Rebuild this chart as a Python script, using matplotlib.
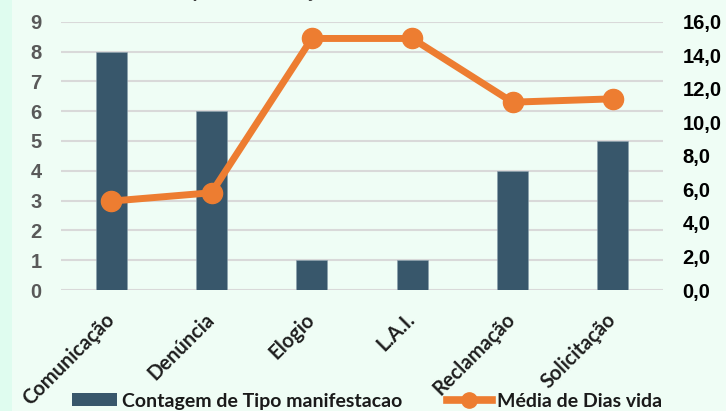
import matplotlib
matplotlib.use('Agg')
import matplotlib.pyplot as plt
from matplotlib.patches import Rectangle
from matplotlib.lines import Line2D
from matplotlib.patches import Patch
import numpy as np

categorias = ['Comunicação', 'Denúncia', 'Elogio', 'L.A.I.', 'Reclamação', 'Solicitação']
contagem = [8, 6, 1, 1, 4, 5]
media_dias = [5.3, 5.8, 15.0, 15.0, 11.2, 11.4]
ticks_esq = list(range(0, 10))
ticks_dir = np.arange(0, 17, 2)

bg = '#effdf5'
bar_color = '#38576b'
line_color = '#ed7d31'

fig = plt.figure(figsize=(7.26, 4.11), dpi=100, facecolor=bg)
fig.patches.append(Rectangle((0, 0), 12 / 726, 1, transform=fig.transFigure,
                             facecolor='#dffcef', edgecolor='none', zorder=0))
ax1 = fig.add_axes([61 / 726, 1 - 290 / 411, 602 / 726, 268.3 / 411])
ax1.set_facecolor(bg)
x = np.arange(len(categorias))
ax1.bar(x, contagem, width=0.31, color=bar_color, edgecolor='#8aa0ad', linewidth=0.4, zorder=2)
ax1.set_xlim(-0.5, len(categorias) - 0.5)
ax1.set_ylim(0, 9)
ax1.set_yticks(ticks_esq)
ax1.set_yticklabels([str(t) for t in ticks_esq], fontsize=14.5, fontweight='bold',
                    color='#595959', family='Liberation Sans')
ax1.grid(axis='y', color='#d9d9d9', linewidth=1.5, zorder=0)
ax1.set_axisbelow(True)
ax1.tick_params(axis='both', length=0)
ax1.tick_params(axis='y', pad=14)
ax1.set_xticks(x)
ax1.set_xticklabels(categorias, rotation=45, ha='right', va='center', rotation_mode='anchor',
                    fontsize=14.5, fontweight='bold', color='#1e1e1e', family='Lato')
ax1.tick_params(axis='x', pad=19)
for s in ax1.spines.values():
    s.set_visible(False)

ax2 = ax1.twinx()
ax2.plot(x, media_dias, color=line_color, linewidth=5, marker='o', markersize=14.5, zorder=3)
ax2.set_ylim(0, 16)
ax2.set_yticks(ticks_dir)
ax2.set_yticklabels([f'{t:.1f}'.replace('.', ',') for t in ticks_dir], fontsize=14.5,
                    fontweight='bold', color='#000000', family='Liberation Sans')
ax2.tick_params(axis='y', length=0, pad=14)
for s in ax2.spines.values():
    s.set_visible(False)

# titulo cortado no topo
fig.text(0.48, 1 + 2 / 411, 'Tipo manifestação x Média de Dias vida', ha='center', va='baseline',
         fontsize=14, fontweight='bold', color='#404040', family='Lato')

handles = [Patch(facecolor=bar_color, edgecolor='none'),
           Line2D([0], [0], color=line_color, linewidth=5.5, marker='o', markersize=11)]
fig.legend(handles, ['Contagem de Tipo manifestacao', 'Média de Dias vida'],
           loc='center', bbox_to_anchor=(367 / 726, 1 - 401 / 411), ncol=2, frameon=False,
           prop={'family': 'Lato', 'weight': 'bold', 'size': 14}, handlelength=2.3,
           handleheight=0.6, handletextpad=0.25, columnspacing=2.3, labelcolor='#1a1a1a')

fig.savefig('out.png', dpi=100, facecolor=bg)
